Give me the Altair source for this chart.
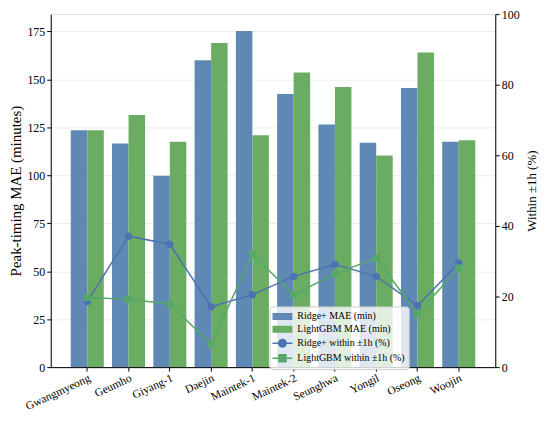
import altair as alt
import pandas as pd

stations = ["Gwangmyeong", "Geumho", "Giyang-1", "Daejin", "Maintek-1",
            "Maintek-2", "Seunghwa", "Yongil", "Oseong", "Woojin"]
ridge_mae = [123.5, 116.5, 99.8, 160.0, 175.2, 142.4, 126.4, 117.0, 145.5, 117.5]
lgbm_mae = [123.5, 131.4, 117.5, 169.0, 120.8, 153.5, 146.0, 110.3, 164.0, 118.2]
ridge_within = [18.6, 37.1, 34.8, 17.1, 20.5, 25.7, 29.1, 25.7, 17.4, 29.5]
lgbm_within = [19.7, 19.2, 17.9, 6.5, 32.0, 20.5, 26.4, 30.9, 15.1, 28.1]

S_RM = "Ridge+ MAE (min)"
S_LM = "LightGBM MAE (min)"
S_RW = "Ridge+ within ±1h (%)"
S_LW = "LightGBM within ±1h (%)"
series_all = [S_RM, S_LM, S_RW, S_LW]
fill_colors = ["#6088b4", "#6aad62", "#4c72b0", "#55a868"]

bars_df = pd.DataFrame(
    [{"station": s, "series": S_RM, "value": v} for s, v in zip(stations, ridge_mae)]
    + [{"station": s, "series": S_LM, "value": v} for s, v in zip(stations, lgbm_mae)]
)
lines_df = pd.DataFrame(
    [{"station": s, "series": S_RW, "value": v} for s, v in zip(stations, ridge_within)]
    + [{"station": s, "series": S_LW, "value": v} for s, v in zip(stations, lgbm_within)]
)

FONT = "Liberation Serif"

rect_path = "M-1.85,-0.55H1.85V0.55H-1.85Z"
circ_path = "M-2,0H2M0.75,0A0.75,0.75 0 1,1 -0.75,0A0.75,0.75 0 1,1 0.75,0Z"
sq_path = "M-2,0H2M-0.7,-0.7H0.7V0.7H-0.7Z"

fill_scale = alt.Scale(domain=series_all, range=fill_colors)
stroke_scale = alt.Scale(domain=series_all, range=fill_colors)
shape_scale = alt.Scale(domain=series_all, range=[rect_path, rect_path, circ_path, sq_path])


def make_legend():
    return alt.Legend(
        title=None, orient="none", legendX=220, legendY=294,
        fillColor="rgba(255,255,255,0.8)", strokeColor="#cccccc", cornerRadius=3,
        padding=4, labelFont=FONT, labelFontSize=10, labelColor="#000000",
        symbolSize=100, rowPadding=1, labelOffset=9, symbolOffset=3,
        symbolStrokeWidth=1.5, symbolOpacity=1, values=series_all,
    )


def right_axis():
    return alt.Axis(orient="right", values=[0, 20, 40, 60, 80, 100], grid=False,
                    labelFont=FONT, labelFontSize=12, labelColor="#000000",
                    titleFont=FONT, titleFontSize=13, titleFontWeight="normal",
                    titleColor="#000000", tickColor="#000000", tickSize=4,
                    domainColor="#000000", titlePadding=19, titleAngle=270,
                    titleBaseline="bottom")


x_enc = alt.X(
    "station:N", sort=stations, title=None,
    scale=alt.Scale(paddingInner=0.2, paddingOuter=0.485),
    axis=alt.Axis(labelAngle=-25, labelAlign="right", labelBaseline="top",
                  labelFont=FONT, labelFontSize=11.5, labelColor="#000000",
                  tickColor="#000000", tickSize=4, domainColor="#000000",
                  labelPadding=1, grid=False),
)

bars = alt.Chart(bars_df).mark_bar(opacity=1, strokeWidth=0).encode(
    x=x_enc,
    xOffset=alt.XOffset("series:N", sort=[S_RM, S_LM]),
    y=alt.Y("value:Q", title="Peak-timing MAE (minutes)",
            scale=alt.Scale(domain=[0, 184], nice=False),
            axis=alt.Axis(values=[0, 25, 50, 75, 100, 125, 150, 175], grid=True,
                          gridColor="#ececec", labelFont=FONT, labelFontSize=12,
                          labelColor="#000000", titleFont=FONT, titleFontSize=15,
                          titleFontWeight="normal", titleColor="#000000",
                          tickColor="#000000", tickSize=4, domainColor="#000000",
                          titlePadding=3)),
    fill=alt.Fill("series:N", scale=fill_scale, legend=make_legend()),
)

y2_scale = alt.Scale(domain=[0, 100], nice=False)
line = alt.Chart(lines_df).mark_line(strokeWidth=1.5).encode(
    x=alt.X("station:N", sort=stations),
    y=alt.Y("value:Q", title="Within ±1h (%)", scale=y2_scale, axis=right_axis()),
    stroke=alt.Stroke("series:N", scale=stroke_scale, legend=make_legend()),
    detail="series:N",
)
points = alt.Chart(lines_df).mark_point(filled=True, opacity=1, size=100, strokeWidth=0).encode(
    x=alt.X("station:N", sort=stations),
    y=alt.Y("value:Q", title="Within ±1h (%)", scale=y2_scale, axis=right_axis()),
    fill=alt.Fill("series:N", scale=fill_scale, legend=make_legend()),
    stroke=alt.Stroke("series:N", scale=stroke_scale, legend=make_legend()),
    shape=alt.Shape("series:N", scale=shape_scale, legend=make_legend()),
)

chart = alt.layer(bars, alt.layer(line, points)).resolve_scale(
    y="independent"
).properties(
    width=447, height=355,
    autosize=alt.AutoSizeParams(type="none"),
    padding={"left": 43, "top": 5, "right": 47, "bottom": 45},
).configure_view(
    stroke="#000000", strokeWidth=1.2
).configure(font=FONT)

chart.save("out.html", embed_options={"renderer": "svg", "actions": False})
